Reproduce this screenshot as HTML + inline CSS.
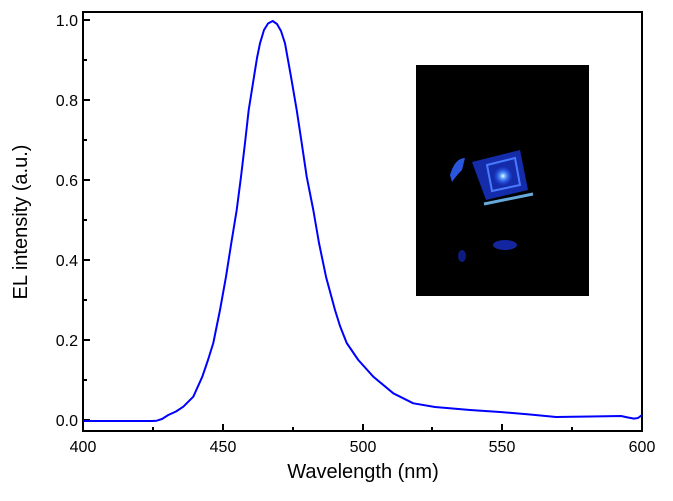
<!DOCTYPE html><html><head><style>body{margin:0;background:#fff}svg{display:block;font-family:"Liberation Sans",Arial,sans-serif}</style></head><body>
<svg width="673" height="501" xmlns="http://www.w3.org/2000/svg">
<defs><radialGradient id="g" cx="0.5" cy="0.5" r="0.5"><stop offset="0" stop-color="#fff"/><stop offset="0.25" stop-color="#6af"/><stop offset="1" stop-color="#14f" stop-opacity="0"/></radialGradient></defs>
<rect x="416" y="65" width="173" height="231" fill="#000"/>
<polygon points="472,162 520,150 528,190 486,200" fill="#1733c8" opacity="0.85"/>
<polygon points="487,165 515,158 520,185 492,191" fill="none" stroke="#4a7bff" stroke-width="2"/>
<line x1="484" y1="204" x2="533" y2="194" stroke="#6ad" stroke-width="3"/>
<path d="M450,175 Q455,158 465,158 L462,170 Q456,176 452,182Z" fill="#2a55dd"/>
<circle cx="503" cy="176" r="10" fill="url(#g)"/>
<ellipse cx="505" cy="245" rx="12" ry="5" fill="#1326a0"/>
<ellipse cx="462" cy="256" rx="4" ry="6" fill="#0e1c80"/>
<rect x="83" y="12" width="559" height="419" fill="none" stroke="#000" stroke-width="2"/>
<g stroke="#000" stroke-width="2">
<line x1="83" y1="20" x2="90" y2="20"/><line x1="83" y1="100" x2="90" y2="100"/><line x1="83" y1="180" x2="90" y2="180"/><line x1="83" y1="260" x2="90" y2="260"/><line x1="83" y1="340" x2="90" y2="340"/><line x1="83" y1="420" x2="90" y2="420"/>
<line x1="83" y1="60" x2="87" y2="60"/><line x1="83" y1="140" x2="87" y2="140"/><line x1="83" y1="220" x2="87" y2="220"/><line x1="83" y1="300" x2="87" y2="300"/><line x1="83" y1="380" x2="87" y2="380"/>
<line x1="223" y1="431" x2="223" y2="424"/><line x1="363" y1="431" x2="363" y2="424"/><line x1="502" y1="431" x2="502" y2="424"/>
<line x1="153" y1="431" x2="153" y2="427"/><line x1="293" y1="431" x2="293" y2="427"/><line x1="432" y1="431" x2="432" y2="427"/><line x1="572" y1="431" x2="572" y2="427"/>
</g>
<g font-size="16" text-anchor="end" fill="#000">
<text x="78" y="26">1.0</text><text x="78" y="106">0.8</text><text x="78" y="186">0.6</text><text x="78" y="266">0.4</text><text x="78" y="346">0.2</text><text x="78" y="426">0.0</text></g>
<g font-size="16" text-anchor="middle" fill="#000">
<text x="83" y="452">400</text><text x="223" y="452">450</text><text x="363" y="452">500</text><text x="502" y="452">550</text><text x="642" y="452">600</text></g>
<text x="363" y="478" font-size="20" text-anchor="middle">Wavelength (nm)</text>
<text transform="translate(27,222) rotate(-90)" font-size="20" text-anchor="middle">EL intensity (a.u.)</text>
<polyline fill="none" stroke="#0000ff" stroke-width="2" stroke-linejoin="round" points="83,421 152,421 156.7,420.7 162,419 168.3,415 176,411.5 183.3,406.7 193.3,396.7 202.3,376.7 208,360 213.3,343 220,310 226,276.7 231.3,243 236.7,210 241,176.7 245,143 248.7,110 254,76.7 257,58 260,43.3 264,30 268,23.5 272.7,21 277,24 281,31 285,43.3 291,76.7 296.7,110 301.7,143 306.7,176.7 313.3,210 319,243 326,276.7 335,310 340,326 346.7,343 358.3,360 373.3,376.7 393.3,393.3 413.3,403.3 435,407 470,410 500,412 530,414.5 556,417 590,416.5 621,416 628,417.5 634,418.6 638,418 642,415"/>
</svg></body></html>
